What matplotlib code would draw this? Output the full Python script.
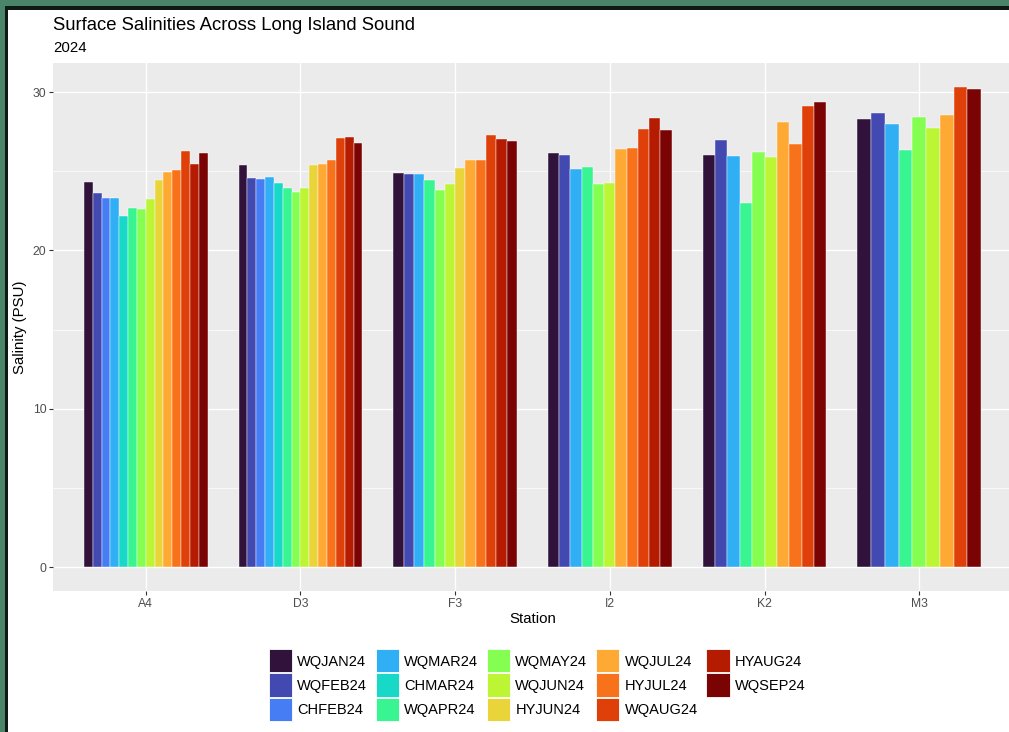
import numpy as np
import matplotlib
matplotlib.use("Agg")
import matplotlib.pyplot as plt
from matplotlib.patches import Patch, Rectangle

plt.rcParams["font.family"] = ["Liberation Sans", "DejaVu Sans"]

# Stations along the x axis
stations = ["A4", "D3", "F3", "I2", "K2", "M3"]

# Surface salinity (PSU) per sampling cruise, one value per station (nan = not sampled)
nan = np.nan
WQJAN24 = [24.30, 25.42, 24.87, 26.15, 26.03, 28.33]
WQFEB24 = [23.65, 24.56, 24.81, 26.05, 26.96, 28.67]
CHFEB24 = [23.33, 24.54, nan, nan, nan, nan]
WQMAR24 = [23.33, 24.66, 24.85, 25.13, 25.97, 27.99]
CHMAR24 = [22.17, 24.28, nan, nan, nan, nan]
WQAPR24 = [22.70, 23.94, 24.45, 25.30, 23.02, 26.37]
WQMAY24 = [22.64, 23.69, 23.80, 24.22, 26.22, 28.44]
WQJUN24 = [23.23, 23.94, 24.22, 24.28, 25.93, 27.76]
HYJUN24 = [24.45, 25.42, 25.19, nan, nan, nan]
WQJUL24 = [24.98, 25.49, 25.72, 26.40, 28.12, 28.56]
HYJUL24 = [25.10, 25.72, 25.72, 26.50, 26.75, nan]
WQAUG24 = [26.28, 27.09, 27.28, 27.70, 29.13, 30.33]
HYAUG24 = [25.44, 27.20, 27.03, 28.40, nan, nan]
WQSEP24 = [26.14, 26.77, 26.90, 27.60, 29.39, 30.19]

series = ["WQJAN24", "WQFEB24", "CHFEB24", "WQMAR24", "CHMAR24", "WQAPR24",
          "WQMAY24", "WQJUN24", "HYJUN24", "WQJUL24", "HYJUL24", "WQAUG24",
          "HYAUG24", "WQSEP24"]
values = {name: np.array(globals()[name], dtype=float) for name in series}

colors = plt.get_cmap("turbo")(np.linspace(0, 1, len(series)))

W, H = 1009, 732
fig = plt.figure(figsize=(W / 100, H / 100), dpi=100)
fig.patch.set_facecolor("white")


def px_axes(left, top, right, bottom, **kw):
    return fig.add_axes([left / W, 1 - bottom / H, (right - left) / W, (bottom - top) / H], **kw)


# framed surround on the top and left edges
frame = fig.add_axes([0, 0, 1, 1], zorder=-5)
frame.set_xlim(0, W)
frame.set_ylim(H, 0)
frame.axis("off")
frame.add_patch(Rectangle((0, 0), W, 7, color="#4b8569", lw=0))
frame.add_patch(Rectangle((0, 0), 5, H, color="#4b8569", lw=0))
frame.add_patch(Rectangle((5, 6), W, 3.5, color="#101a14", lw=0))
frame.add_patch(Rectangle((4.5, 6), 3, H, color="#101a14", lw=0))

ax = px_axes(53, 63, 1012, 591)
ax.set_facecolor("#EBEBEB")
for s in ax.spines.values():
    s.set_visible(False)

x = np.arange(1, len(stations) + 1)
group_w = 0.8
for si, st in enumerate(stations):
    present = [k for k, name in enumerate(series) if not np.isnan(values[name][si])]
    bw = group_w / len(present)
    for j, k in enumerate(present):
        xpos = x[si] - group_w / 2 + bw * (j + 0.5)
        ax.bar(xpos, values[series[k]][si], width=bw, color=colors[k],
               edgecolor="white", linewidth=0.3, zorder=3)

ymax = np.nanmax([values[n] for n in series])
ax.set_ylim(-0.05 * ymax, 1.05 * ymax)
ax.set_xlim(0.4, len(stations) + 0.6)

ax.set_yticks([0, 10, 20, 30])
ax.set_yticks([5, 15, 25], minor=True)
ax.set_xticks(x)
ax.set_xticklabels(stations)
ax.grid(which="major", color="white", linewidth=0.95, zorder=0)
ax.grid(which="minor", axis="y", color="white", linewidth=0.5, zorder=0)
ax.set_axisbelow(True)
ax.tick_params(axis="both", which="major", length=2.8, width=0.8, color="#333333",
               labelcolor="#4D4D4D", labelsize=8.7, pad=2)
ax.tick_params(axis="y", which="minor", length=0)

# axis titles
fig.text(532.5 / W, 1 - 619 / H, "Station", fontsize=10.8, color="black",
         ha="center", va="center")
fig.text(20 / W, 1 - 327 / H, "Salinity (PSU)", fontsize=10.8, color="black",
         ha="center", va="center", rotation=90)

fig.text(53 / W, 1 - 25 / H, "Surface Salinities Across Long Island Sound",
         fontsize=13.3, color="black", va="center", ha="left")
fig.text(53 / W, 1 - 48 / H, "2024", fontsize=10.8, color="black",
         va="center", ha="left")

handles = [Patch(facecolor=colors[k], edgecolor="white", linewidth=0.6, label=n)
           for k, n in enumerate(series)]
fig.legend(handles=handles, ncol=5, loc="center", bbox_to_anchor=(537 / W, 1 - 685 / H),
           frameon=False, fontsize=10.5, handlelength=1.6, handleheight=2.05,
           handletextpad=0.35, labelspacing=0.07, columnspacing=0.6)

fig.savefig("out.png", dpi=100)
